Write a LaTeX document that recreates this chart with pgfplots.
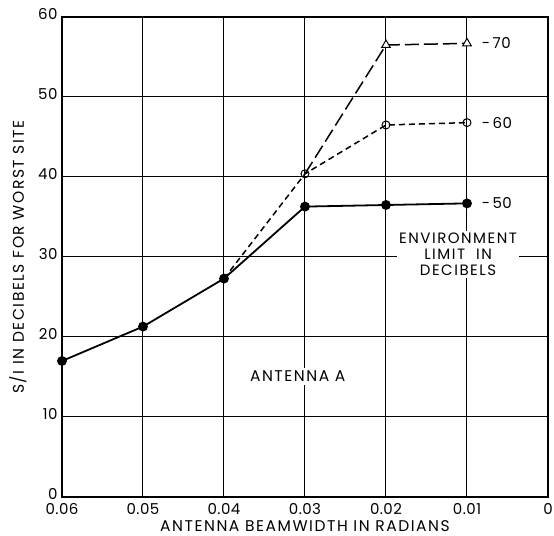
\documentclass[border=0pt]{standalone}
\usepackage{fontspec}
\setmainfont{Poppins}
\newfontfamily\lab[LetterSpace=10]{Poppins}
\newfontfamily\num[LetterSpace=3]{Poppins}
\usepackage{pgfplots}
\pgfplotsset{compat=1.18}
\begin{document}
\begin{tikzpicture}
\begin{axis}[
  scale only axis,
  width=486pt, height=480pt,
  x dir=reverse,
  xmin=0, xmax=0.06, ymin=0, ymax=60,
  xtick={0,0.01,0.02,0.03,0.04,0.05,0.06},
  xticklabels={0,0.01,0.02,0.03,0.04,0.05,0.06},
  scaled x ticks=false,
  ytick={0,10,20,30,40,50,60},
  grid=major,
  grid style={black, line width=1pt},
  axis line style={black, line width=1.4pt},
  major tick length=0pt,
  tick label style={font=\num\fontsize{15}{16}\selectfont},
  xticklabel style={yshift=-3pt},
  yticklabel style={xshift=-1pt, yshift=3pt},
  /pgf/number format/assume math mode=true,
  xlabel={\lab\fontsize{15.5}{16}\selectfont ANTENNA BEAMWIDTH IN RADIANS},
  ylabel={\lab\fontsize{15.5}{16}\selectfont S/I IN DECIBELS FOR WORST SITE},
  xlabel style={at={(axis description cs:0.5,0)}, anchor=base, yshift=-34.5pt, inner sep=0pt},
  ylabel style={at={(axis description cs:0,0.5)}, anchor=center, yshift=44pt},
  clip=false,
]
\addplot[black, line width=1.8pt, mark=*, mark size=4pt, mark options={solid, fill=black}]
  coordinates {(0.06,17) (0.05,21.3) (0.04,27.3) (0.03,36.3) (0.02,36.5) (0.01,36.7)};
\addplot[black, line width=1.5pt, dash pattern=on 6pt off 4pt]
  coordinates {(0.04,27.3) (0.03,40.4) (0.02,46.5) (0.01,46.8)};
\addplot[black, line width=1.5pt, dash pattern=on 14pt off 5pt]
  coordinates {(0.03,40.4) (0.02,56.5) (0.01,56.7)};
\addplot[only marks, mark=o, mark size=4pt, mark options={solid, fill=white, line width=1pt}]
  coordinates {(0.03,40.4) (0.02,46.5) (0.01,46.8)};
\addplot[only marks, mark=triangle*, mark size=5pt, mark options={solid, fill=white, draw=black, line width=1pt}]
  coordinates {(0.02,56.5) (0.01,56.7)};
\node[anchor=west, font=\num\fontsize{15}{16}\selectfont] at (axis cs:0.0086,56.7) {-\,70};
\node[anchor=west, font=\num\fontsize{15}{16}\selectfont] at (axis cs:0.0086,46.8) {-\,60};
\node[anchor=west, font=\num\fontsize{15}{16}\selectfont] at (axis cs:0.0086,36.7) {-\,50};
\node[fill=white, align=center, inner sep=2pt, font=\lab\fontsize{15}{16}\selectfont] at (axis cs:0.0111,30.3) {ENVIRONMENT\\LIMIT\ \ IN\\DECIBELS};
\node[fill=white, inner sep=3pt, font=\lab\fontsize{15.5}{16}\selectfont] at (axis cs:0.0309,15.1) {ANTENNA A};
\end{axis}
\pgfresetboundingbox
\useasboundingbox ([shift={(-62pt,-39pt)}]current axis.south west) rectangle ([shift={(6pt,17pt)}]current axis.north east);
\end{tikzpicture}
\end{document}
